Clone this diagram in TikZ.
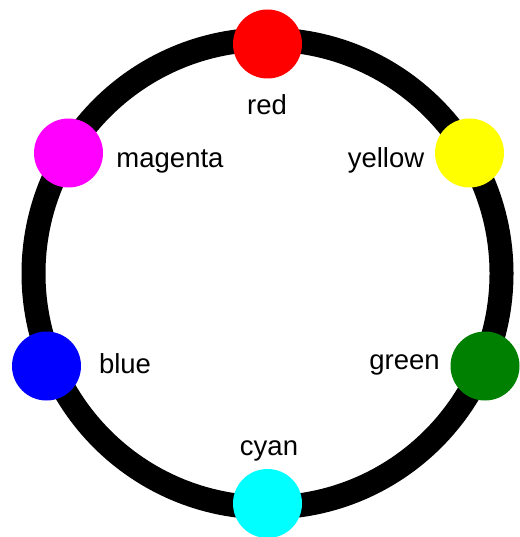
\documentclass[tikz,border=0pt]{standalone}
\usepackage{fontspec}
\setmainfont{Liberation Sans}
\definecolor{cred}{HTML}{FF0000}
\definecolor{cyellow}{HTML}{FFFF00}
\definecolor{cgreen}{HTML}{008000}
\definecolor{ccyan}{HTML}{00FFFF}
\definecolor{cblue}{HTML}{0000FF}
\definecolor{cmagenta}{HTML}{FF00FF}
\begin{document}
\begin{tikzpicture}[x=1pt,y=-1pt,
  ring/.style={draw=black,line width=24pt},
  dot/.style={circle,inner sep=0pt,minimum size=69pt,draw=none},
  lbl/.style={anchor=base,inner sep=0pt,font=\fontsize{27.5}{32}\selectfont}]
\useasboundingbox (0,0) rectangle (519,537);
\coordinate (c) at (267.5,273.5);
\draw[ring] (c) circle[radius=234pt];
\node[dot,fill=cred]     (red)     at (267.5,44) {};
\node[dot,fill=cyellow]  (yellow)  at (469.5,153) {};
\node[dot,fill=cgreen]   (green)   at (485,366) {};
\node[dot,fill=ccyan]    (cyan)    at (267.5,503.5) {};
\node[dot,fill=cblue]    (blue)    at (46.5,366) {};
\node[dot,fill=cmagenta] (magenta) at (68.5,153) {};
\node[lbl] (tred)     at (267,114.3) {red};
\node[lbl] (tyellow)  at (386,167.7) {yellow};
\node[lbl] (tgreen)   at (404.5,369) {green};
\node[lbl] (tcyan)    at (269,455.5) {cyan};
\node[lbl] (tblue)    at (125,373.3) {blue};
\node[lbl] (tmagenta) at (170,167.7) {magenta};
\end{tikzpicture}
\end{document}
